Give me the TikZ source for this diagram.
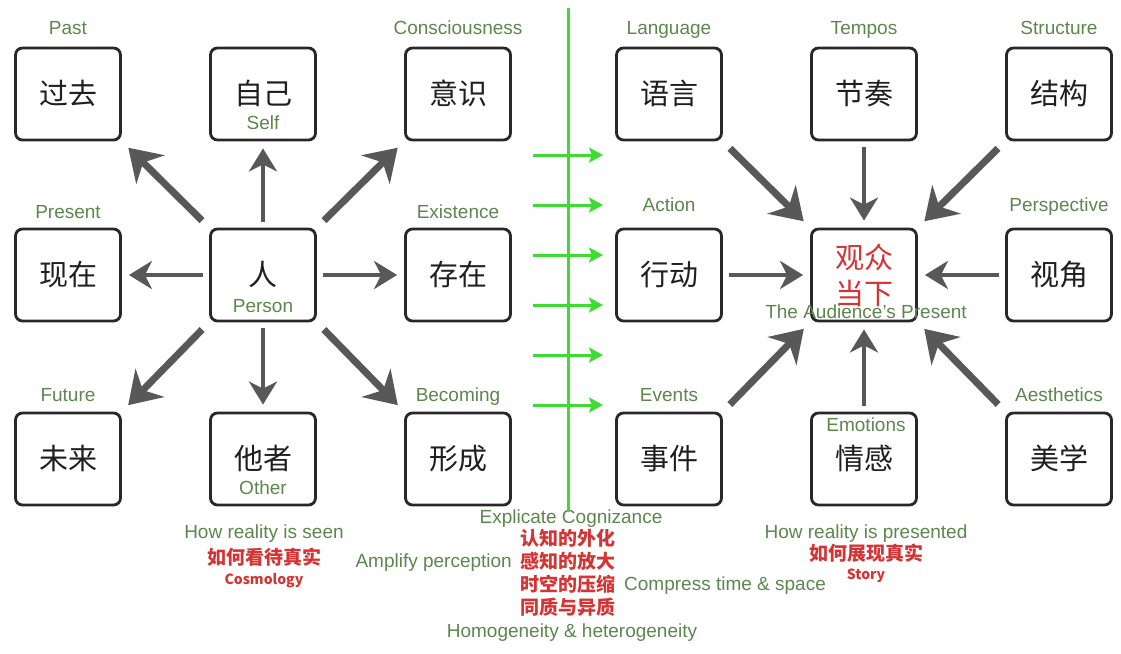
\documentclass[tikz,border=0pt]{standalone}
\usepackage{fontspec}
\setmainfont{Liberation Sans}
\newfontfamily\cjk{Noto Sans CJK SC}
\usetikzlibrary{arrows.meta}
\definecolor{lblgreen}{RGB}{92,135,78}
\definecolor{lblred}{RGB}{214,52,52}
\definecolor{arrgray}{RGB}{88,88,88}
\definecolor{boxline}{RGB}{40,40,40}
\definecolor{brightgreen}{RGB}{60,220,50}
\begin{document}
\begin{tikzpicture}[x=1pt,y=-1pt,
  box/.style={draw=boxline, line width=2.8pt, rounded corners=7pt,
    minimum width=105pt, minimum height=92pt, inner sep=0pt,
    font=\cjk\fontsize{29}{37}\selectfont, text=black!88},
  one/.style={text height=20.5pt, text depth=0pt},
  lbl/.style={text=lblgreen, font=\fontsize{19}{22}\selectfont, inner sep=0pt,
    text height=13.5pt, text depth=0pt},
  redc/.style={text=lblred, font=\cjk\bfseries\fontsize{19}{22}\selectfont, inner sep=0pt,
    text height=14pt, text depth=0pt},
  redsm/.style={text=lblred, font=\cjk\bfseries\fontsize{14}{16}\selectfont, inner sep=0pt,
    text height=10pt, text depth=0pt},
  diag/.style={draw=arrgray, line width=7pt, shorten <=10pt, shorten >=9pt,
    -{Stealth[length=31pt,width=40pt,inset=10pt]}},
  orth/.style={draw=arrgray, line width=4.5pt, shorten <=6pt, shorten >=7pt,
    -{Stealth[length=23pt,width=28pt,inset=7pt]}},
  gline/.style={draw=brightgreen, line width=3pt},
  garrow/.style={draw=brightgreen, line width=3pt,
    -{Stealth[length=14pt,width=15pt,inset=3pt]}}
]
\useasboundingbox[fill=white] (0,0) rectangle (1121,653);

% ---------- boxes left ----------
\node[box,one] (past)   at (68,94)   {过去};
\node[box,one] (self)   at (263,94)  {自己};
\node[box,one] (cons)   at (458,94)  {意识};
\node[box,one] (pres)   at (68,275)  {现在};
\node[box,one] (person) at (263,275) {人};
\node[box,one] (exist)  at (458,275) {存在};
\node[box,one] (future) at (68,459)  {未来};
\node[box,one] (other)  at (263,459) {他者};
\node[box,one] (becom)  at (458,459) {形成};

% ---------- boxes right ----------
\node[box,one] (lang)   at (669,94)  {语言};
\node[box,one] (tempo)  at (864,94)  {节奏};
\node[box,one] (struct) at (1059,94) {结构};
\node[box,one] (action) at (669,275) {行动};
\node[box,text=lblred,align=center] (aud) at (864,275) {观众\\[-1pt]当下};
\node[box,one] (persp)  at (1059,275) {视角};
\node[box,one] (events) at (669,459) {事件};
\node[box,one] (emo)    at (864,459) {情感};
\node[box,one] (aesth)  at (1059,459) {美学};

% ---------- green labels ----------
\node[lbl] (lpast)   at (68,28)   {Past};
\node[lbl] (lcons)   at (458,28)  {Consciousness};
\node[lbl] (llang)   at (669,28)  {Language};
\node[lbl] (ltempo)  at (864,28)  {Tempos};
\node[lbl] (lstruct) at (1059,28) {Structure};
\node[lbl] (lpres)   at (68,212)  {Present};
\node[lbl] (lexist)  at (458,212) {Existence};
\node[lbl] (laction) at (669,205) {Action};
\node[lbl] (lpersp)  at (1059,205) {Perspective};
\node[lbl] (lfuture) at (68,395)  {Future};
\node[lbl] (lbecom)  at (458,395) {Becoming};
\node[lbl] (levents) at (669,395) {Events};
\node[lbl] (laesth)  at (1059,395) {Aesthetics};
\node[lbl] (lself)   at (263,123) {Self};
\node[lbl] (lperson) at (263,306) {Person};
\node[lbl] (lother)  at (263,488) {Other};
\node[lbl] (lemo)    at (866,425) {Emotions};
\node[lbl] (laud)    at (866,312) {The Audience's Present};

% ---------- bottom texts ----------
\node[lbl]   (seen)  at (264,532) {How reality is seen};
\node[redc]  (seenc) at (264,557) {如何看待真实};
\node[redsm] (cosmo) at (264,579) {Cosmology};
\node[lbl]   (expl)  at (571,517) {Explicate Cognizance};
\node[redc]  (explc) at (568,538) {认知的外化};
\node[lbl,anchor=east] (ampl) at (512,561) {Amplify perception};
\node[redc]  (amplc) at (568,561) {感知的放大};
\node[redc]  (compc) at (568,584) {时空的压缩};
\node[lbl,anchor=west] (comp) at (624,584) {Compress time \& space};
\node[redc]  (homoc) at (568,607) {同质与异质};
\node[lbl]   (homo)  at (572,631) {Homogeneity \& heterogeneity};
\node[lbl]   (pres2) at (866,532) {How reality is presented};
\node[redc]  (pres2c) at (866,553) {如何展现真实};
\node[redsm] (story) at (866,574) {Story};

% ---------- green divider ----------
\coordinate (gtop) at (568,8);
\coordinate (gbot) at (568,512);
\draw[gline] (gtop) -- (gbot);
\foreach \yy [count=\i] in {155,205,255,305,355,405} {
  \coordinate (ga\i) at (533,\yy);
  \coordinate (gb\i) at (603,\yy);
  \draw[garrow] (ga\i) -- (gb\i);
}

% ---------- arrows left ----------
\draw[diag] (person.north west) -- (past.south east);
\draw[diag] (person.north east) -- (cons.south west);
\draw[diag] (person.south west) -- (future.north east);
\draw[diag] (person.south east) -- (becom.north west);
\draw[orth] (person.north) -- (self.south);
\draw[orth] (person.south) -- (other.north);
\draw[orth] (person.west) -- (pres.east);
\draw[orth] (person.east) -- (exist.west);

% ---------- arrows right ----------
\draw[diag] (lang.south east) -- (aud.north west);
\draw[diag] (struct.south west) -- (aud.north east);
\draw[diag] (events.north east) -- (aud.south west);
\draw[diag] (aesth.north west) -- (aud.south east);
\draw[orth] (tempo.south) -- (aud.north);
\draw[orth] (emo.north) -- (aud.south);
\draw[orth] (action.east) -- (aud.west);
\draw[orth] (persp.west) -- (aud.east);
\end{tikzpicture}
\end{document}
